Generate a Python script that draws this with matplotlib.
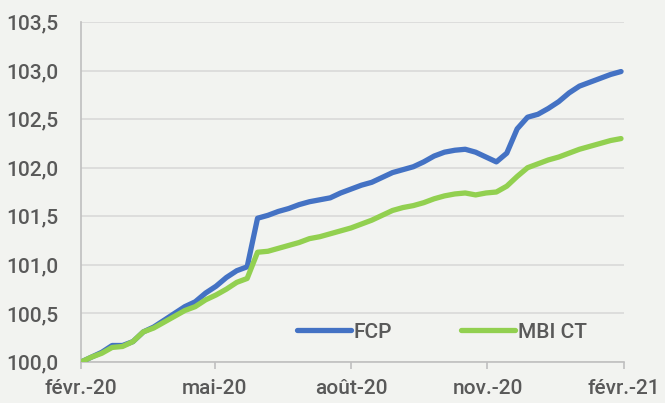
import matplotlib
matplotlib.use('Agg')
import matplotlib.pyplot as plt
import matplotlib.ticker as mticker
import pandas as pd

# weekly values, starting 1 Feb 2020
dates = pd.date_range('2020-02-01', periods=53, freq='7D')
fcp = [100.00, 100.05, 100.10, 100.17, 100.17, 100.21, 100.31, 100.36, 100.43, 100.50,
       100.57, 100.62, 100.71, 100.78, 100.87, 100.94, 100.98, 101.48, 101.51, 101.55,
       101.58, 101.62, 101.65, 101.67, 101.69, 101.74, 101.78, 101.82, 101.85, 101.90,
       101.95, 101.98, 102.01, 102.06, 102.12, 102.16, 102.18, 102.19, 102.16, 102.11,
       102.06, 102.15, 102.40, 102.52, 102.55, 102.61, 102.68, 102.77, 102.84, 102.88,
       102.92, 102.96, 102.99]
mbi = [100.00, 100.05, 100.09, 100.15, 100.16, 100.21, 100.31, 100.35, 100.41, 100.47,
       100.53, 100.57, 100.64, 100.69, 100.75, 100.82, 100.86, 101.13, 101.14, 101.17,
       101.20, 101.23, 101.27, 101.29, 101.32, 101.35, 101.38, 101.42, 101.46, 101.51,
       101.56, 101.59, 101.61, 101.64, 101.68, 101.71, 101.73, 101.74, 101.72, 101.74,
       101.75, 101.81, 101.91, 102.00, 102.04, 102.08, 102.11, 102.15, 102.19, 102.22,
       102.25, 102.28, 102.30]

tick_dates = pd.to_datetime(['2020-02-01', '2020-05-01', '2020-08-01', '2020-11-01', '2021-02-01'])
tick_labels = ['févr.-20', 'mai-20', 'août-20', 'nov.-20', 'févr.-21']

bg = '#f2f3f0'
txt = '#595959'
plt.rcParams['font.family'] = ['Roboto', 'DejaVu Sans']
plt.rcParams['font.weight'] = 'medium'

fig = plt.figure(figsize=(6.65, 4.03), dpi=100, facecolor=bg)
ax = fig.add_axes([0.1218, 0.1017, 0.8165, 0.8437], facecolor=bg)

ax.plot(dates, fcp, color='#4472C4', lw=3.8, solid_capstyle='round', label='FCP', zorder=3)
ax.plot(dates, mbi, color='#92D050', lw=3.8, solid_capstyle='round', label='MBI CT', zorder=3)

ax.set_ylim(100, 103.5)
ax.set_xlim(tick_dates[0], tick_dates[-1])
ax.yaxis.set_major_locator(mticker.MultipleLocator(0.5))
ax.yaxis.set_major_formatter(mticker.FuncFormatter(lambda v, p: f'{v:.1f}'.replace('.', ',')))
ax.set_xticks(tick_dates)
ax.set_xticklabels(tick_labels)

ax.grid(axis='y', color='#d9d9d9', lw=1.2)
ax.set_axisbelow(True)
for s in ['top', 'right']:
    ax.spines[s].set_visible(False)
ax.spines['left'].set_color('#bfbfbf')
ax.spines['bottom'].set_color('#bfbfbf')
ax.spines['left'].set_linewidth(1.2)
ax.spines['bottom'].set_linewidth(1.2)

ax.tick_params(axis='y', length=0, pad=16, labelsize=15, labelcolor=txt)
ax.tick_params(axis='x', length=5, width=1.2, color='#bfbfbf', pad=7, labelsize=15, labelcolor=txt)

leg = ax.legend(loc='center', bbox_to_anchor=(0.665, 0.088), ncol=2, frameon=False,
                fontsize=15, handlelength=2.6, handletextpad=0.15, columnspacing=3.3)
for t in leg.get_texts():
    t.set_color(txt)

fig.savefig('out.png', dpi=100, facecolor=bg)
